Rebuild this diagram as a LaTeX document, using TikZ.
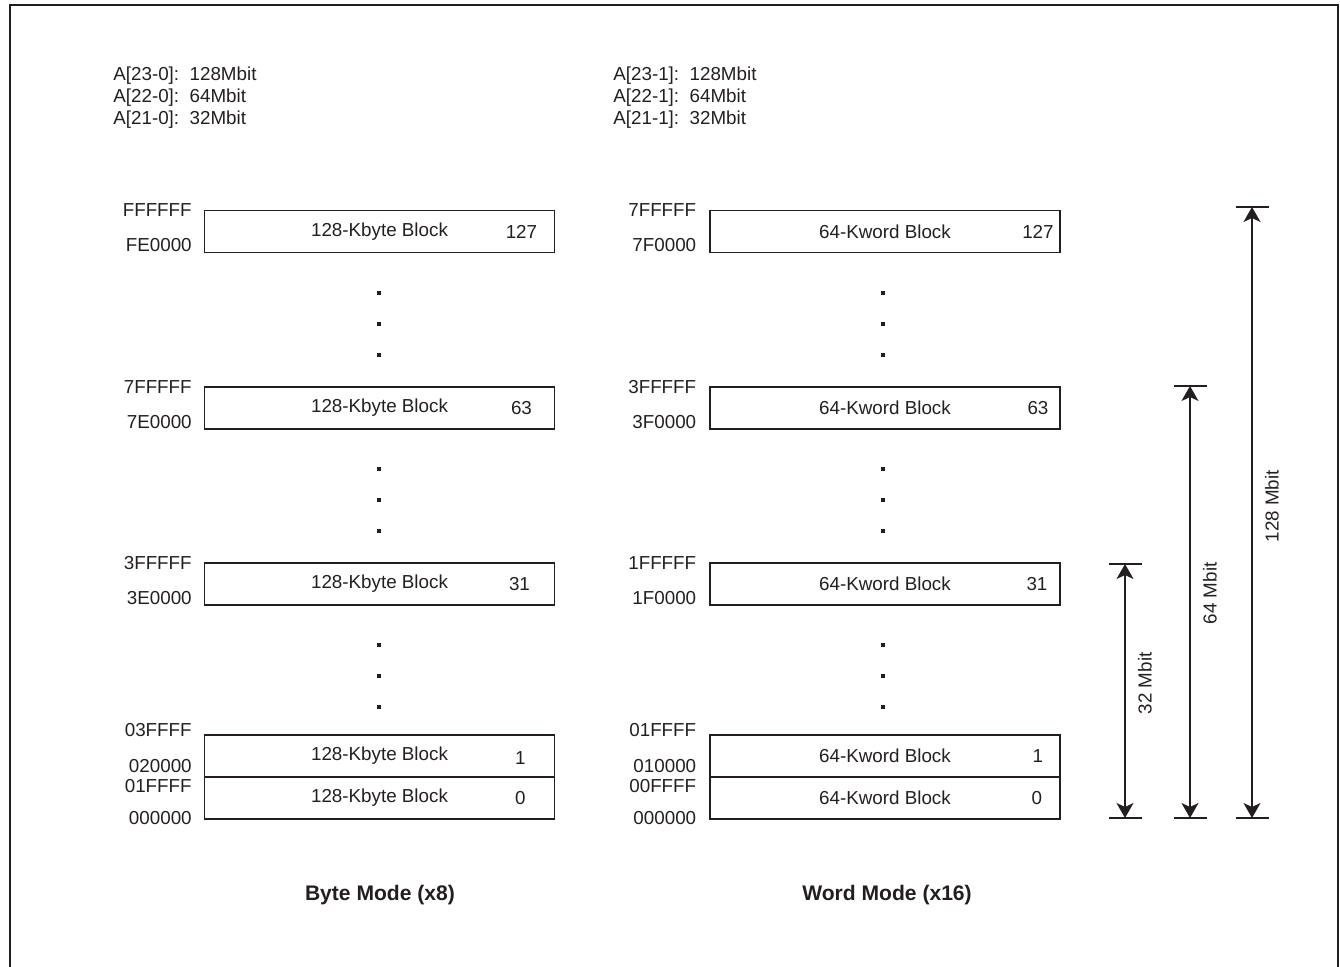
\documentclass[tikz,border=0pt]{standalone}
\usepackage{fontspec}
\setmainfont{Liberation Sans}
\usetikzlibrary{arrows.meta,positioning}
\definecolor{ink}{RGB}{35,31,32}

\begin{document}
\begin{tikzpicture}[x=0.02cm, y=-0.02cm, color=ink,
  font=\fontsize{10.7}{13}\selectfont,
  block/.style={draw, line width=0.8pt, minimum width=7cm, minimum height=0.84cm, inner sep=0pt, outer sep=0pt},
  addr/.style={anchor=east, inner sep=0pt},
  num/.style={inner sep=0pt},
  hdr/.style={anchor=base west, inner sep=0pt},
  dot/.style={fill, minimum size=0.065cm, inner sep=0pt},
  tick/.style={line width=0.8pt},
  sizearrow/.style={line width=0.7pt, {Stealth[length=0.3cm, width=0.34cm, inset=0.08cm]}-{Stealth[length=0.3cm, width=0.34cm, inset=0.08cm]}},
  sizelabel/.style={rotate=90, anchor=north, inner sep=7pt},
  mode/.style={font=\fontsize{12}{14}\selectfont\bfseries}]
\useasboundingbox (0,0) rectangle (1340,967);
\draw[line width=0.6pt] (10,967) -- (10,5) -- (1338,5) -- (1338,967);

% address ranges
\node[hdr] (hb1) at (113,80) {A[23-0]:\ \ 128Mbit};
\node[hdr] (hb2) at (113,102) {A[22-0]:\ \ 64Mbit};
\node[hdr] (hb3) at (113,124) {A[21-0]:\ \ 32Mbit};
\node[hdr] (hw1) at (613,80) {A[23-1]:\ \ 128Mbit};
\node[hdr] (hw2) at (613,102) {A[22-1]:\ \ 64Mbit};
\node[hdr] (hw3) at (613,124) {A[21-1]:\ \ 32Mbit};

% byte mode
\node[block] (b127) at (379.5,231.5) {128-Kbyte Block};
\node[block] (b63) at (379.5,408) {128-Kbyte Block};
\node[block] (b31) at (379.5,584) {128-Kbyte Block};
\node[block] (b1) at (379.5,756) {128-Kbyte Block};
\node[block] (b0) [below=0pt of b1] {128-Kbyte Block};
\node[num] (nb127) at ([xshift=-0.66cm]b127.east) {127};
\node[num] (nb63) at ([xshift=-0.66cm]b63.east) {63};
\node[num] (nb31) at ([xshift=-0.7cm]b31.east) {31};
\node[num] (nb1) at ([xshift=-0.68cm, yshift=-0.04cm]b1.east) {1};
\node[num] (nb0) at ([xshift=-0.68cm]b0.east) {0};
\node[addr] (ab127t) at ([xshift=-0.25cm]b127.north west) {FFFFFF};
\node[addr] (ab127b) at ([xshift=-0.25cm, yshift=0.14cm]b127.south west) {FE0000};
\node[addr] (ab63t) at ([xshift=-0.25cm]b63.north west) {7FFFFF};
\node[addr] (ab63b) at ([xshift=-0.25cm, yshift=0.14cm]b63.south west) {7E0000};
\node[addr] (ab31t) at ([xshift=-0.25cm]b31.north west) {3FFFFF};
\node[addr] (ab31b) at ([xshift=-0.25cm, yshift=0.14cm]b31.south west) {3E0000};
\node[addr] (ab1t) at ([xshift=-0.25cm, yshift=0.1cm]b1.north west) {03FFFF};
\node[addr] (ab1b) at ([xshift=-0.25cm, yshift=0.22cm]b1.south west) {020000};
\node[addr] (ab0t) at ([xshift=-0.25cm, yshift=-0.18cm]b0.north west) {01FFFF};
\node[addr] (ab0b) at ([xshift=-0.25cm, yshift=0.02cm]b0.south west) {000000};
\path (379,293) node[dot] (db1) {} (379,324) node[dot] (db2) {} (379,355) node[dot] (db3) {}
      (379,469) node[dot] (db4) {} (379,500) node[dot] (db5) {} (379,531) node[dot] (db6) {}
      (379,645) node[dot] (db7) {} (379,676) node[dot] (db8) {} (379,707) node[dot] (db9) {};
\node[mode] (tbyte) at (380,895) {Byte Mode (x8)};

% word mode
\node[block] (w127) at (885,231.5) {64-Kword Block};
\node[block] (w63) at (885,408) {64-Kword Block};
\node[block] (w31) at (885,584) {64-Kword Block};
\node[block] (w1) at (885,756) {64-Kword Block};
\node[block] (w0) [below=0pt of w1] {64-Kword Block};
\node[num] (nw127) at ([xshift=-0.44cm]w127.east) {127};
\node[num] (nw63) at ([xshift=-0.44cm]w63.east) {63};
\node[num] (nw31) at ([xshift=-0.46cm]w31.east) {31};
\node[num] (nw1) at ([xshift=-0.44cm]w1.east) {1};
\node[num] (nw0) at ([xshift=-0.46cm]w0.east) {0};
\node[addr] (aw127t) at ([xshift=-0.27cm]w127.north west) {7FFFFF};
\node[addr] (aw127b) at ([xshift=-0.27cm, yshift=0.14cm]w127.south west) {7F0000};
\node[addr] (aw63t) at ([xshift=-0.27cm]w63.north west) {3FFFFF};
\node[addr] (aw63b) at ([xshift=-0.27cm, yshift=0.14cm]w63.south west) {3F0000};
\node[addr] (aw31t) at ([xshift=-0.27cm]w31.north west) {1FFFFF};
\node[addr] (aw31b) at ([xshift=-0.27cm, yshift=0.14cm]w31.south west) {1F0000};
\node[addr] (aw1t) at ([xshift=-0.27cm, yshift=0.1cm]w1.north west) {01FFFF};
\node[addr] (aw1b) at ([xshift=-0.27cm, yshift=0.22cm]w1.south west) {010000};
\node[addr] (aw0t) at ([xshift=-0.27cm, yshift=-0.18cm]w0.north west) {00FFFF};
\node[addr] (aw0b) at ([xshift=-0.27cm, yshift=0.02cm]w0.south west) {000000};
\path (883,293) node[dot] (dw1) {} (883,324) node[dot] (dw2) {} (883,355) node[dot] (dw3) {}
      (883,469) node[dot] (dw4) {} (883,500) node[dot] (dw5) {} (883,531) node[dot] (dw6) {}
      (883,645) node[dot] (dw7) {} (883,676) node[dot] (dw8) {} (883,707) node[dot] (dw9) {};
\node[mode] (tword) at (887,895) {Word Mode (x16)};

% density arrows
\coordinate (top32) at (1125,564);
\coordinate (bot32) at (1125,818);
\coordinate (top64) at (1190,386);
\coordinate (bot64) at (1190,818);
\coordinate (top128) at (1252,207);
\coordinate (bot128) at (1252,818);
\draw[tick] ([xshift=-0.33cm]top32) -- ([xshift=0.33cm]top32);
\draw[tick] ([xshift=-0.33cm]bot32) -- ([xshift=0.33cm]bot32);
\draw[tick] ([xshift=-0.33cm]top64) -- ([xshift=0.33cm]top64);
\draw[tick] ([xshift=-0.33cm]bot64) -- ([xshift=0.33cm]bot64);
\draw[tick] ([xshift=-0.33cm]top128) -- ([xshift=0.33cm]top128);
\draw[tick] ([xshift=-0.33cm]bot128) -- ([xshift=0.33cm]bot128);
\draw[sizearrow] (top32) -- node[sizelabel, pos=0.47] (l32) {32 Mbit} (bot32);
\draw[sizearrow] (top64) -- node[sizelabel, pos=0.48] (l64) {64 Mbit} (bot64);
\draw[sizearrow] (top128) -- node[sizelabel, pos=0.49] (l128) {128 Mbit} (bot128);
\end{tikzpicture}
\end{document}
